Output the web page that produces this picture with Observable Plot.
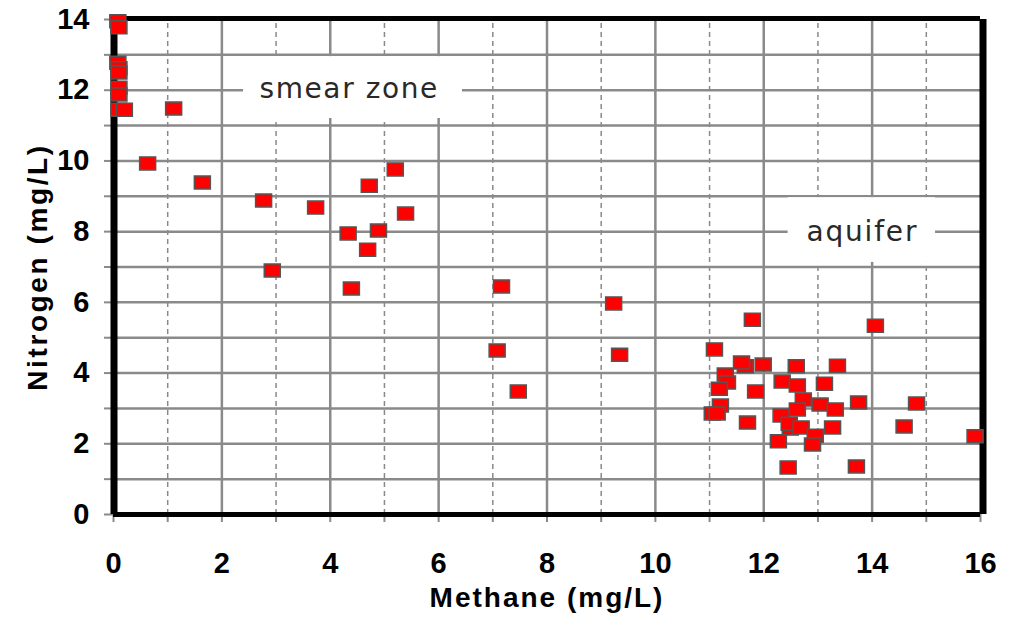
<!DOCTYPE html>
<html>
<head>
<meta charset="utf-8">
<script src="https://cdn.jsdelivr.net/npm/d3@7"></script>
<script src="https://cdn.jsdelivr.net/npm/@observablehq/plot@0.6"></script>
<style>
  html, body { margin: 0; padding: 0; background: #fff; }
  #chart { width: 1017px; height: 626px; }
</style>
</head>
<body>
<div id="chart"></div>
<script>
// Data
const methane = [
  0.08, 0.10, 0.08, 0.10, 0.10, 0.10, 0.10, 0.10, 0.20,
  1.11, 0.63, 1.64, 2.77, 5.20, 4.72, 3.73, 5.39, 4.33, 4.89, 4.69, 2.93, 4.39,
  7.16, 9.23, 7.08, 9.34, 7.47,
  11.79, 11.09, 11.66, 11.59, 11.99, 12.60, 13.36, 11.29, 11.33, 11.18, 11.85,
  12.34, 12.62, 13.12, 12.73, 13.04, 13.32, 13.75, 12.62, 11.20, 11.05, 11.14,
  12.32, 11.70, 12.49, 12.47, 12.69, 12.95, 13.27, 12.27, 12.90, 12.45, 13.71,
  14.06, 14.82, 14.59, 15.90
];
const nitrogen = [
  13.95, 13.78, 12.78, 12.62, 12.50, 12.07, 11.88, 11.45, 11.45,
  11.48, 9.93, 9.39, 8.88, 9.76, 9.30, 8.68, 8.51, 7.95, 8.03, 7.49, 6.90, 6.39,
  6.45, 5.97, 4.64, 4.52, 3.48,
  5.51, 4.67, 4.19, 4.30, 4.24, 4.19, 4.21, 3.96, 3.73, 3.56, 3.48,
  3.76, 3.65, 3.70, 3.25, 3.11, 2.97, 3.17, 2.97, 3.08, 2.86, 2.86,
  2.80, 2.60, 2.43, 2.57, 2.46, 2.23, 2.46, 2.07, 1.98, 1.33, 1.36,
  5.34, 3.14, 2.49, 2.21
];
const xTickLabels = [0, 2, 4, 6, 8, 10, 12, 14, 16];
const yTickLabels = [0, 2, 4, 6, 8, 10, 12, 14];
const xMajorGrid = [2, 4, 6, 8, 10, 12, 14];
const xMinorGrid = [1, 3, 5, 7, 9, 11, 13, 15];
const yGrid = [1, 2, 3, 4, 5, 6, 7, 8, 9, 10, 11, 12, 13];
const allXTicks = d3.range(0, 17);
const allYTicks = d3.range(0, 15);
const xTitle = "Methane (mg/L)";
const yTitle = "Nitrogen (mg/L)";

// Annotations (text + white backing box, in data units)
const annoText = ["smear zone", "aquifer"];
const annoX = [4.35, 13.82];
const annoY = [12.02, 8.0];
const annoX1 = [2.40, 12.45];
const annoX2 = [6.44, 15.17];
const annoY1 = [11.2, 7.13];
const annoY2 = [12.95, 8.96];

const points = methane.map((m, i) => ({methane: m, nitrogen: nitrogen[i]}));
const annos = annoText.map((t, i) => ({
  text: t, x: annoX[i], y: annoY[i],
  x1: annoX1[i], x2: annoX2[i], y1: annoY1[i], y2: annoY2[i]
}));

const rectSymbol = {
  draw(ctx) {
    const w = 16, h = 13;
    ctx.moveTo(-w / 2, -h / 2);
    ctx.lineTo(w / 2, -h / 2);
    ctx.lineTo(w / 2, h / 2);
    ctx.lineTo(-w / 2, h / 2);
    ctx.closePath();
  }
};

const gridColor = "#8a8a8a";
const boldFont = "'Liberation Sans', Arial, sans-serif";

const chart = Plot.plot({
  width: 1017,
  height: 626,
  marginLeft: 113,
  marginRight: 37,
  marginTop: 19,
  marginBottom: 112,
  style: {fontFamily: boldFont, background: "#fff"},
  x: {domain: [0, 16], axis: null},
  y: {domain: [0, 14], axis: null},
  marks: [
    // grid
    Plot.ruleX(xMinorGrid, {stroke: gridColor, strokeWidth: 1.5, strokeDasharray: "5,4", y1: 0, y2: 14}),
    Plot.ruleX(xMajorGrid, {stroke: gridColor, strokeWidth: 2.5, y1: 0, y2: 14}),
    Plot.ruleY(yGrid, {stroke: gridColor, strokeWidth: 2.5, x1: 0, x2: 16}),
    // outside tick marks
    Plot.axisY({ticks: allYTicks, tickSize: 9, tickFormat: () => "", stroke: gridColor, strokeWidth: 2, label: null}),
    Plot.axisX({ticks: allXTicks, tickSize: 8, tickFormat: () => "", stroke: gridColor, strokeWidth: 2, label: null}),
    // white annotation boxes
    Plot.rect(annos, {x1: "x1", x2: "x2", y1: "y1", y2: "y2", fill: "#fff"}),
    Plot.text(annos, {x: "x", y: "y", text: "text", fontSize: 28, fill: "#2b2925", fontFamily: "'DejaVu Sans', sans-serif", fontWeight: "normal"}),
    // frame
    Plot.ruleY([0], {stroke: "#000", strokeWidth: 5}),
    Plot.ruleY([14], {stroke: "#000", strokeWidth: 5, dy: -1}),
    Plot.ruleX([0], {stroke: "#000", strokeWidth: 7, dx: 0.5}),
    Plot.ruleX([16], {stroke: "#000", strokeWidth: 7, dx: 2.5}),
    // tick labels
    Plot.axisY({ticks: yTickLabels, tickSize: 0, tickPadding: 24, fontSize: 29, fontWeight: "bold", fill: "#000", label: null}),
    Plot.axisX({ticks: xTickLabels, tickSize: 0, tickPadding: 38, fontSize: 29, fontWeight: "bold", fill: "#000", label: null}),
    // axis titles
    Plot.text([xTitle], {frameAnchor: "bottom", dy: 92, fontSize: 28, fontWeight: "bold", fill: "#000"}),
    Plot.text([yTitle], {frameAnchor: "left", textAnchor: "middle", dx: -75, rotate: -90, fontSize: 28, fontWeight: "bold", fill: "#000"}),
    // points
    Plot.dot(points, {x: "methane", y: "nitrogen", symbol: rectSymbol, r: 8, fill: "#ff0000", stroke: "#555", strokeWidth: 1.5})
  ]
});

// letter spacing (not a Plot text option) applied after render
const spacing = new Map([[xTitle, "2px"], [yTitle, "2.6px"], ["smear zone", "1.6px"], ["aquifer", "1.8px"]]);
d3.select(chart).selectAll("text").each(function() {
  const s = spacing.get(this.textContent);
  if (s) this.setAttribute("letter-spacing", s);
});

document.getElementById("chart").appendChild(chart);
</script>
</body>
</html>
